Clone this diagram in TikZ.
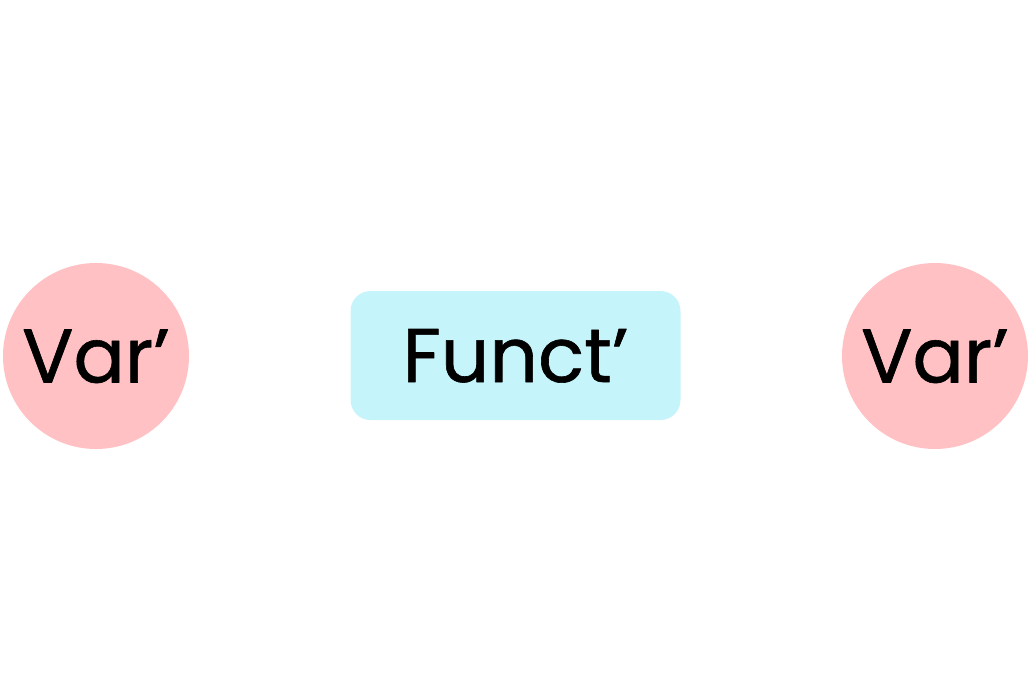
\documentclass[tikz,border=0pt]{standalone}
\usepackage{fontspec}
\setmainfont{Poppins}
\newfontfamily\labelfont{Poppins}[FakeBold=0.8]
\definecolor{varpink}{HTML}{FFC1C3}
\definecolor{functcyan}{HTML}{C6F4FB}
\begin{document}
\begin{tikzpicture}[x=1pt, y=-1pt, line join=round, line cap=round]
            \tikzset{every node/.style={font=\labelfont\fontsize{76}{76}\selectfont, text height=53pt, text depth=0pt, inner sep=0pt},
                varnode/.style={circle, fill=varpink, minimum size=186pt},
                functnode/.style={rectangle, rounded corners=20pt, fill=functcyan, minimum width=330pt, minimum height=129pt}}
            \useasboundingbox (0,0) rectangle (1031,688);
            \node[varnode] (varL) at (96,356) {Var’};
            \node[functnode] (funct) at (515.5,355.5) {Funct’};
            \node[varnode] (varR) at (935,356) {Var’};
        \end{tikzpicture}
\end{document}
